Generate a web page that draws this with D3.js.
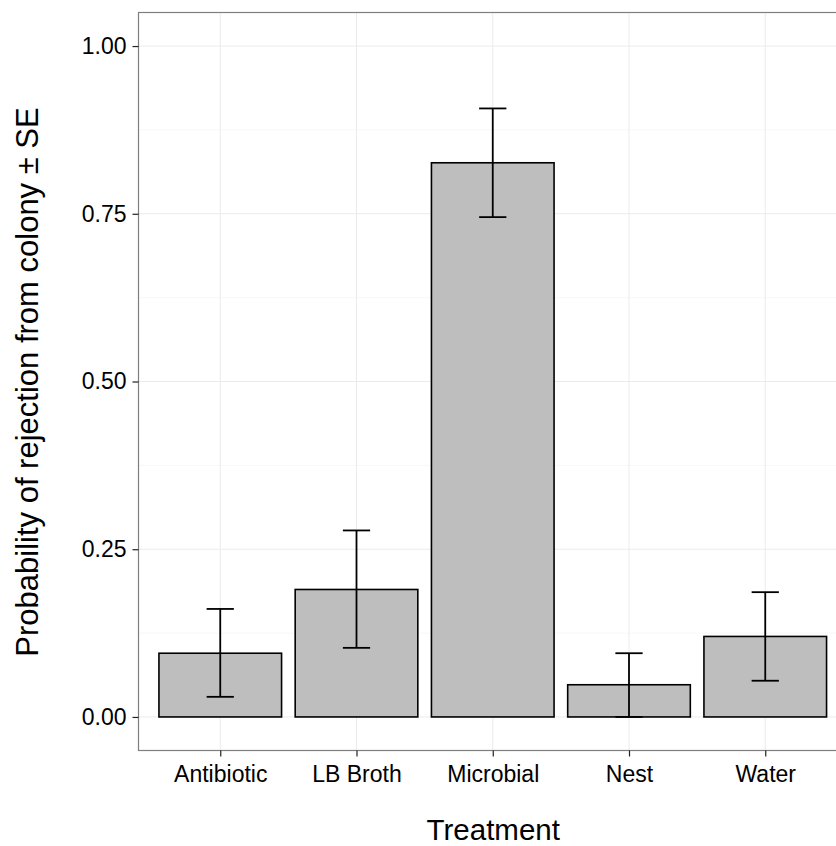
<!DOCTYPE html>
<html>
<head>
<meta charset="utf-8">
<script src="https://cdn.jsdelivr.net/npm/d3@7"></script>
<style>
  body { margin: 0; background: #fff; }
  svg { display: block; font-family: "Liberation Sans", Arial, Helvetica, sans-serif; }
</style>
</head>
<body>
<div id="chart"></div>
<script>
// probability of rejection by treatment, bars with +/- SE

const treatments = ["Antibiotic", "LB Broth", "Microbial", "Nest", "Water"];
const probs = [0.095, 0.190, 0.826, 0.048, 0.120];
const seLow = [0.030, 0.103, 0.745, 0.000, 0.054];
const seHigh = [0.161, 0.278, 0.907, 0.095, 0.186];
const yTicks = [0, 0.25, 0.5, 0.75, 1.0];
const yMinor = [0.125, 0.375, 0.625, 0.875];

const width = 836, height = 846;
const panel = { left: 138.5, top: 12.5, right: 847, bottom: 750.5 };

const svg = d3.select("#chart")
    .append("svg")
    .attr("width", width)
    .attr("height", height);

const x = d3.scalePoint()
    .domain(treatments)
    .range([panel.left, panel.right])
    .padding(0.6);

const y = d3.scaleLinear()
    .domain([-0.05, 1.05])
    .range([panel.bottom, panel.top]);

const step = x.step();
const barW = step * 0.9;
const capW = step * 0.2;

// grid
const grid = svg.append("g");
grid.selectAll(".minor")
    .data(yMinor)
    .enter().append("line")
    .attr("x1", panel.left).attr("x2", panel.right)
    .attr("y1", d => y(d)).attr("y2", d => y(d))
    .attr("stroke", "#f7f7f7")
    .attr("stroke-width", 1);
grid.selectAll(".major-y")
    .data(yTicks)
    .enter().append("line")
    .attr("x1", panel.left).attr("x2", panel.right)
    .attr("y1", d => y(d)).attr("y2", d => y(d))
    .attr("stroke", "#ebebeb")
    .attr("stroke-width", 1);
grid.selectAll(".major-x")
    .data(treatments)
    .enter().append("line")
    .attr("x1", d => x(d)).attr("x2", d => x(d))
    .attr("y1", panel.top).attr("y2", panel.bottom)
    .attr("stroke", "#ebebeb")
    .attr("stroke-width", 1);

// bars
svg.selectAll(".bar")
    .data(treatments)
    .enter().append("rect")
    .attr("class", "bar")
    .attr("x", d => x(d) - barW / 2)
    .attr("width", barW)
    .attr("y", (d, i) => y(probs[i]))
    .attr("height", (d, i) => y(0) - y(probs[i]))
    .attr("fill", "#bebebe")
    .attr("stroke", "#000")
    .attr("stroke-width", 1.6);

// error bars
const err = svg.selectAll(".err")
    .data(treatments)
    .enter().append("g")
    .attr("stroke", "#000")
    .attr("stroke-width", 1.8);
err.append("line")
    .attr("x1", d => x(d)).attr("x2", d => x(d))
    .attr("y1", (d, i) => y(seLow[i])).attr("y2", (d, i) => y(seHigh[i]));
err.append("line")
    .attr("x1", d => x(d) - capW / 2).attr("x2", d => x(d) + capW / 2)
    .attr("y1", (d, i) => y(seLow[i])).attr("y2", (d, i) => y(seLow[i]));
err.append("line")
    .attr("x1", d => x(d) - capW / 2).attr("x2", d => x(d) + capW / 2)
    .attr("y1", (d, i) => y(seHigh[i])).attr("y2", (d, i) => y(seHigh[i]));

// panel border
svg.append("rect")
    .attr("x", panel.left).attr("y", panel.top)
    .attr("width", panel.right - panel.left)
    .attr("height", panel.bottom - panel.top)
    .attr("fill", "none")
    .attr("stroke", "#7f7f7f")
    .attr("stroke-width", 1.2);

// axes
const xAxis = svg.append("g")
    .attr("transform", `translate(0,${panel.bottom})`)
    .call(d3.axisBottom(x).tickSize(6).tickPadding(6));
const yAxis = svg.append("g")
    .attr("transform", `translate(${panel.left},0)`)
    .call(d3.axisLeft(y).tickValues(yTicks).tickFormat(d3.format(".2f")).tickSize(6).tickPadding(6));

[xAxis, yAxis].forEach(a => {
    a.select(".domain").remove();
    a.selectAll(".tick line").attr("stroke", "#222").attr("stroke-width", 1.2);
    a.selectAll(".tick text")
        .attr("fill", "#000")
        .style("font-size", "23px")
        .style("font-family", "'Liberation Sans', Arial, sans-serif");
});
xAxis.selectAll(".tick text").attr("dy", "0.85em");

// titles
svg.append("text")
    .attr("x", (panel.left + width) / 2 + 6)
    .attr("y", 840)
    .attr("text-anchor", "middle")
    .style("font-size", "29.5px")
    .attr("fill", "#000")
    .text("Treatment");

svg.append("text")
    .attr("transform", `translate(38,382) rotate(-90)`)
    .attr("text-anchor", "middle")
    .style("font-size", "31px")
    .attr("fill", "#000")
    .text("Probability of rejection from colony ± SE");
</script>
</body>
</html>
